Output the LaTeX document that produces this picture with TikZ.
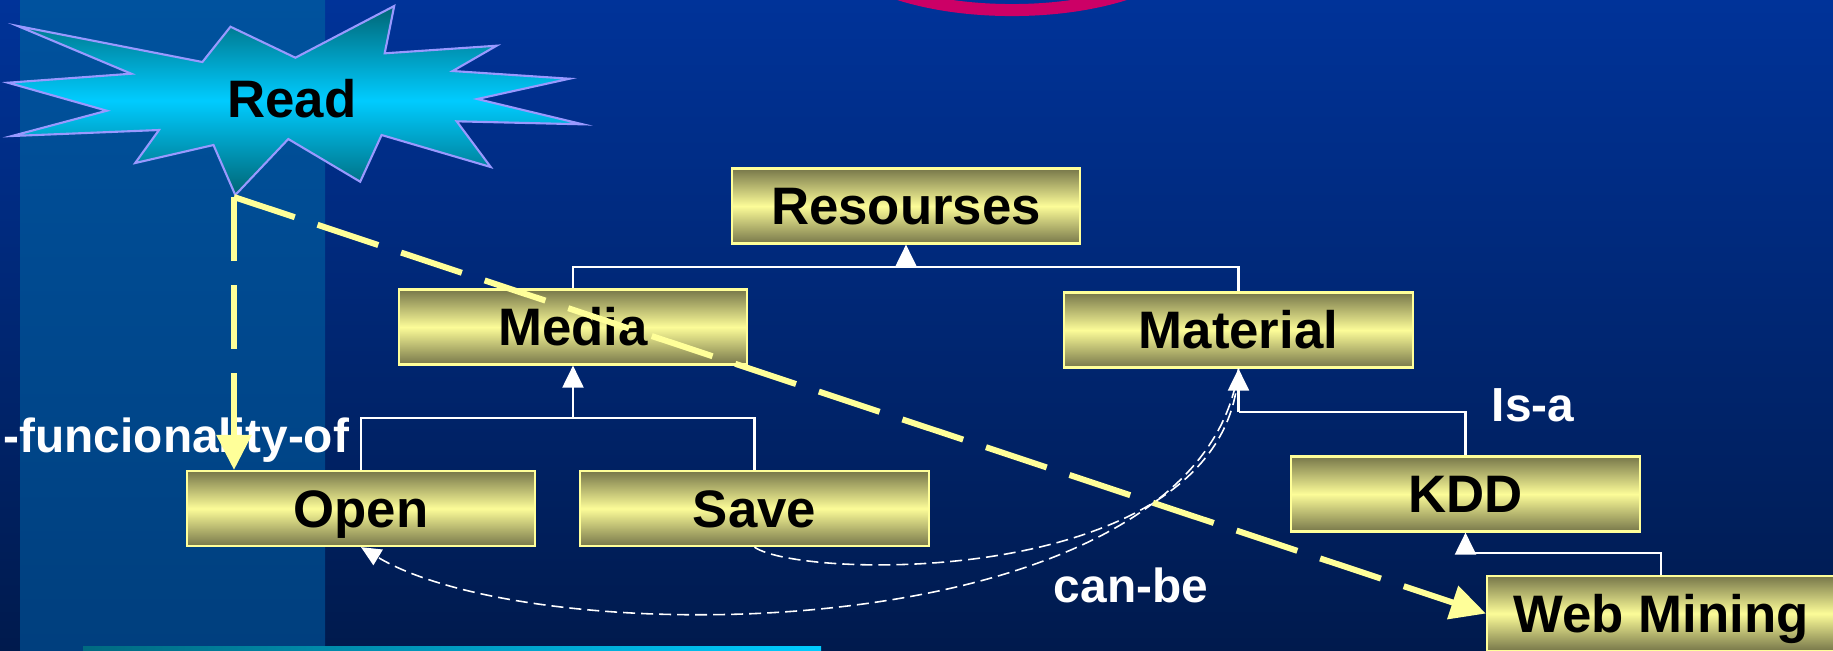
\documentclass[tikz,border=0pt]{standalone}
\usepackage{fontspec}
\setmainfont{Liberation Sans}
\usetikzlibrary{arrows.meta}

\definecolor{bgtop}{HTML}{003399}
\definecolor{bgbot}{HTML}{001A4D}
\definecolor{bandtop}{HTML}{00529E}
\definecolor{bandbot}{HTML}{003F7E}
\definecolor{boxdark}{HTML}{77774A}
\definecolor{boxlight}{HTML}{FCFC98}
\definecolor{boxedge}{HTML}{FFFF99}
\definecolor{linkyellow}{HTML}{FFFF99}
\definecolor{startop}{HTML}{006575}
\definecolor{starmid}{HTML}{00CCFF}
\definecolor{staredge}{HTML}{9999FF}
\definecolor{ringcol}{HTML}{CC0066}
\definecolor{stripeleft}{HTML}{006A80}
\definecolor{striperight}{HTML}{00CCFF}

\begin{document}
\begin{tikzpicture}[x=0.01cm,y=-0.01cm,
  classbox/.style={rectangle, draw=boxedge, line width=0.6pt,
    top color=boxdark, bottom color=boxdark, middle color=boxlight,
    minimum width=3.48cm, minimum height=0.75cm, inner sep=0pt,
    text height=10.7pt, text depth=0pt,
    font=\fontsize{15}{18}\selectfont\bfseries},
  tree/.style={draw=white, line width=0.6pt},
  isa/.style={-{Triangle[length=2.2mm,width=2.1mm,fill=white]}},
  canbe/.style={draw=white, line width=0.45pt, dash pattern=on 1.2mm off 0.6mm},
  fn/.style={draw=linkyellow, line width=0.06cm, dash pattern=on 0.64cm off 0.24cm,
    -{Triangle[length=3.5mm,width=3.4mm,fill=linkyellow]}},
  rolelabel/.style={text=white, inner sep=0pt, font=\fontsize{13.6}{16}\selectfont\bfseries},
]
\useasboundingbox (0,0) rectangle (1833,650);
\clip (0,0) rectangle (1833,650);

% backdrop
\fill[top color=bgtop, bottom color=bgbot] (0,0) rectangle (1833,650);
\fill[top color=bandtop, bottom color=bandbot] (20,0) rectangle (325,650);
\fill[left color=stripeleft, right color=striperight] (83,646) rectangle (821,650);
\draw[ringcol, line width=0.12cm] (1012,-65) ellipse [x radius=1.84cm, y radius=0.75cm];

% the "Read" burst
\path[draw=staredge, line width=0.6pt, top color=startop, bottom color=startop, middle color=starmid]
  (17.8,26) -- (202.4,62) -- (230.5,26.7) -- (295.4,57.7) -- (394.2,6) -- (384.7,53.3)
  -- (496.6,45.7) -- (452.7,71) -- (569.4,78.7) -- (477.3,99) -- (582.8,124.3)
  -- (456.7,121.3) -- (490.7,167) -- (381.6,135) -- (360.2,181.7) -- (288.3,139)
  -- (235.3,195) -- (213.5,145) -- (135.2,163) -- (159,130) -- (11.9,136)
  -- (106.8,110.7) -- (7.9,82.7) -- (131.3,73.7) -- cycle;
\node[anchor=base, inner sep=0pt, font=\fontsize{15}{18}\selectfont\bfseries] (read) at (292,117) {Read};
\coordinate (readtip) at (234,197);

% class boxes
\node[classbox] (res) at (906,206) {Resourses};
\node[classbox] (media) at (573,327) {Media};
\node[classbox] (mat) at (1238.5,330) {Material};
\node[classbox] (open) at (361,508.5) {Open};
\node[classbox] (save) at (754.5,508.5) {Save};
\node[classbox] (kdd) at (1465.5,494) {KDD};
\node[classbox] (web) at (1661,613.5) {Web Mining};

% can-be links
\draw[canbe] (save.south) .. controls (800,580) and (1230,590) .. (mat.south);
\draw[canbe, -{Triangle[length=2mm,width=1.8mm,fill=white]}]
  (mat.south) .. controls (1200,650) and (540,655) .. (open.south);

% inheritance trees
\coordinate (resjoin) at (906,267);
\draw[tree] (media.north) |- (resjoin) -| (mat.north);
\draw[tree, isa] (resjoin) -- (res.south);

\coordinate (mediajoin) at (573,418);
\draw[tree] (open.north) |- (mediajoin) -| (save.north);
\draw[tree, isa] (mediajoin) -- (media.south);

\coordinate (matjoin) at (1238.5,412);
\draw[tree] (kdd.north) |- (matjoin);
\draw[tree, isa] (matjoin) -- (mat.south);

\coordinate (kddjoin) at (1465.5,553);
\draw[tree] (web.north) |- (kddjoin);
\draw[tree, isa] (kddjoin) -- (kdd.south);

% relation labels
\node[rolelabel, anchor=base west] (fnlabel) at (3,452) {-funcionality-of};
\node[rolelabel, anchor=base] (isalabel) at (1533,421) {Is-a};
\node[rolelabel, anchor=base] (canbelabel) at (1131,602) {can-be};

% functionality links
\draw[fn] (readtip) -- (readtip |- open.north);
\draw[fn] (readtip) -- (web.west);
\end{tikzpicture}
\end{document}
